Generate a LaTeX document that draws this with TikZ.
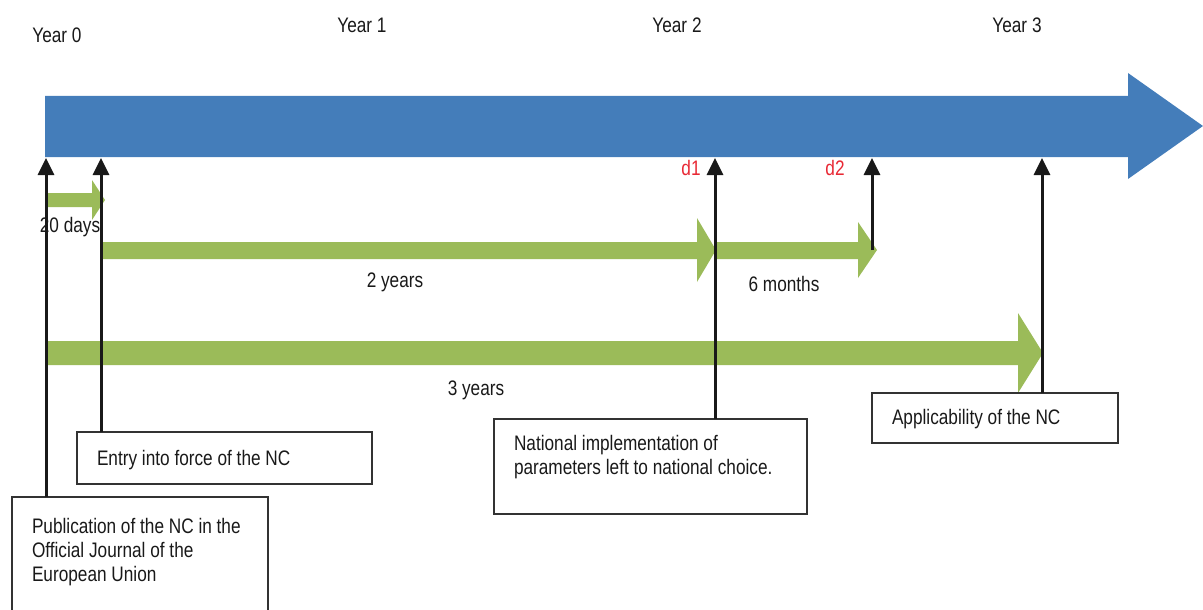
\documentclass[tikz,border=0pt]{standalone}
\usepackage{fontspec}
\setmainfont{Liberation Sans}[FakeStretch=0.82]
\usetikzlibrary{arrows.meta}
\definecolor{barblue}{RGB}{68,125,186}
\definecolor{spangreen}{RGB}{155,187,89}
\definecolor{markred}{RGB}{232,40,52}

\begin{document}
\begin{tikzpicture}[x=1pt, y=-1pt,
        every node/.style={font=\fontsize{21}{24.3}\selectfont, text=black!90},
        box/.style={draw=black!80, line width=1.6pt, anchor=north west, align=left,
            inner xsep=20pt, inner ysep=0pt, outer sep=0pt,
            execute at begin node={\spaceskip=0pt\xspaceskip=0pt\relax}},
        tick/.style={draw=black!90, line width=3pt, -{Triangle[width=16pt,length=17pt]}},
        span/.style={fill=spangreen}]
        \useasboundingbox (0,0) rectangle (1203,610);
        \clip (0,0) rectangle (1203,610);
        % time bar
        \fill [barblue] (45,96) -- (1128,96) -- (1128,73) -- (1203,126)
            -- (1128,179) -- (1128,157) -- (45,157) -- cycle;
        \node (y0) at (57,42.5) [anchor=base] {Year 0};
        \node (y1) at (362,33) [anchor=base] {Year 1};
        \node (y2) at (677,33) [anchor=base] {Year 2};
        \node (y3) at (1017,33) [anchor=base] {Year 3};
        \node (lbl1) at (691,175) [anchor=base, text=markred] {d1};
        \node (lbl2) at (835,175) [anchor=base, text=markred] {d2};
        % durations
        \fill [span] (47,193) -- (92,193) -- (92,180) -- (105,200)
            -- (92,220) -- (92,207) -- (47,207) -- cycle;
        \fill [span] (100,242) -- (697,242) -- (697,218) -- (716,250)
            -- (697,282) -- (697,259) -- (100,259) -- cycle;
        \fill [span] (716,242) -- (858,242) -- (858,222) -- (877,250)
            -- (858,278) -- (858,259) -- (716,259) -- cycle;
        \fill [span] (47,341) -- (1018,341) -- (1018,313) -- (1043,353)
            -- (1018,393) -- (1018,365) -- (47,365) -- cycle;
        \node (days) at (70,232) [anchor=base] {20 days};
        \node (twoy) at (395,287) [anchor=base] {2 years};
        \node (sixm) at (784,291) [anchor=base] {6 months};
        \node (threey) at (476,395) [anchor=base] {3 years};
        % milestones
        \node (pub) [box, text width=216pt, text height=36pt, text depth=85pt] at (12,497)
            {Publication of the NC in the\\Official Journal of the\\European Union};
        \node (entry) [box, text width=255pt, text height=33pt, text depth=19pt] at (77,432)
            {Entry into force of the NC};
        \node (natl) [box, text width=273pt, text height=31pt, text depth=64pt] at (494,419)
            {National implementation of\\parameters left to national choice.};
        \node (appl) [box, text width=206pt, text height=31pt, text depth=19pt] at (872,393)
            {Applicability of the NC};
        \coordinate (tpub) at (46,158);
        \coordinate (tentry) at (101,158);
        \coordinate (tnat) at (715,158);
        \coordinate (tlate) at (872,158);
        \coordinate (tappl) at (1042,158);
        \coordinate (sixend) at (872,250);
        \draw [tick] (tpub |- pub.north) -- (tpub);
        \draw [tick] (tentry |- entry.north) -- (tentry);
        \draw [tick] (tnat |- natl.north) -- (tnat);
        \draw [tick] (sixend) -- (tlate);
        \draw [tick] (tappl |- appl.north) -- (tappl);
    \end{tikzpicture}
\end{document}
